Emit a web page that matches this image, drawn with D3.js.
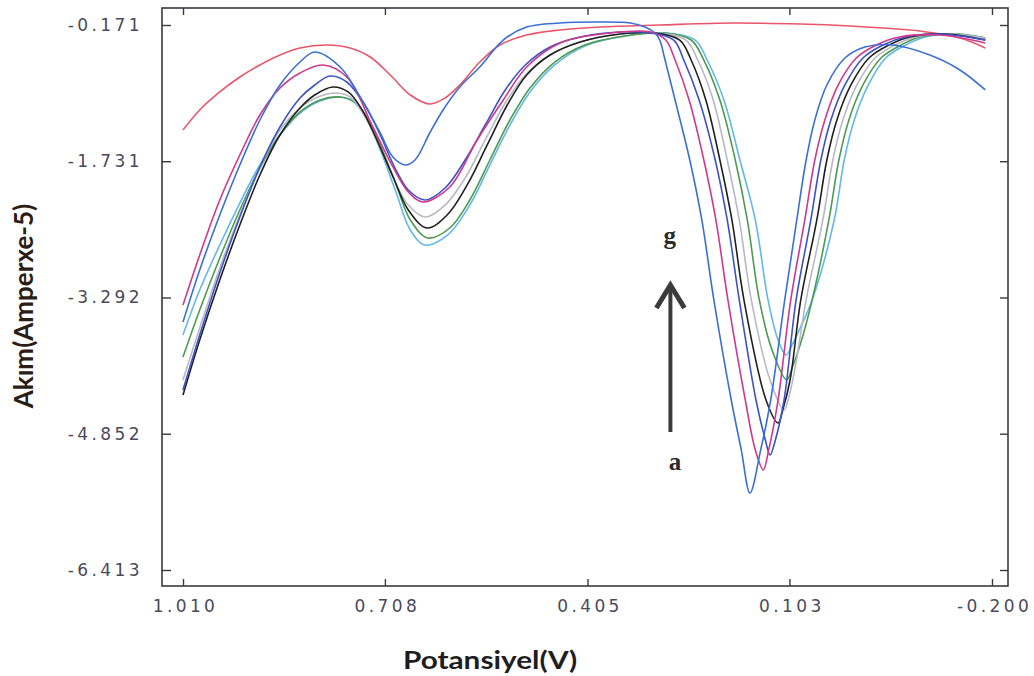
<!DOCTYPE html>
<html>
<head>
<meta charset="utf-8">
<script src="https://cdn.jsdelivr.net/npm/d3@7"></script>
<style>
  body { margin: 0; background: #fff; }
  .tick text { font-family: "DejaVu Sans", sans-serif; font-size: 17px; letter-spacing: 3.4px; fill: #4a4a5a; }
</style>
</head>
<body>
<div id="chart"></div>
<script>
// tick labels as printed on the scan
var xTicks = [1.010, 0.708, 0.405, 0.103, -0.200];
var yTicks = [-0.171, -1.731, -3.292, -4.852, -6.413];

// [potential V, current]
var curveRed = [[1.010,-1.374],[0.985,-1.144],[0.955,-0.938],[0.925,-0.767],[0.895,-0.629],[0.865,-0.515],[0.835,-0.434],[0.795,-0.400],[0.760,-0.434],[0.730,-0.537],[0.700,-0.744],[0.670,-0.973],[0.641,-1.076],[0.618,-1.007],[0.596,-0.858],[0.566,-0.595],[0.536,-0.400],[0.496,-0.286],[0.446,-0.228],[0.386,-0.194],[0.297,-0.171],[0.187,-0.148],[0.087,-0.160],[0.012,-0.182],[-0.037,-0.205],[-0.092,-0.240],[-0.152,-0.320],[-0.190,-0.434]];
var curveA = [[1.010,-3.573],[0.985,-2.977],[0.955,-2.347],[0.925,-1.774],[0.895,-1.259],[0.865,-0.858],[0.835,-0.595],[0.813,-0.480],[0.775,-0.652],[0.745,-0.996],[0.715,-1.408],[0.696,-1.683],[0.678,-1.774],[0.663,-1.717],[0.641,-1.408],[0.621,-1.144],[0.596,-0.881],[0.566,-0.652],[0.531,-0.343],[0.496,-0.194],[0.446,-0.148],[0.386,-0.137],[0.341,-0.148],[0.319,-0.194],[0.304,-0.263],[0.297,-0.343],[0.289,-0.572],[0.274,-1.030],[0.252,-1.717],[0.234,-2.404],[0.216,-3.320],[0.190,-4.466],[0.175,-5.038],[0.162,-5.531],[0.146,-5.038],[0.131,-4.466],[0.110,-3.320],[0.092,-2.404],[0.078,-1.717],[0.065,-1.259],[0.047,-0.858],[0.020,-0.549],[-0.010,-0.423],[-0.052,-0.400],[-0.107,-0.515],[-0.152,-0.686],[-0.190,-0.915]];
var curveB = [[1.010,-3.378],[0.985,-2.805],[0.955,-2.175],[0.925,-1.660],[0.895,-1.202],[0.865,-0.893],[0.835,-0.721],[0.801,-0.629],[0.765,-0.767],[0.726,-1.339],[0.696,-1.797],[0.673,-2.084],[0.651,-2.198],[0.611,-2.026],[0.570,-1.488],[0.531,-1.030],[0.496,-0.652],[0.446,-0.377],[0.371,-0.263],[0.311,-0.251],[0.288,-0.343],[0.274,-0.572],[0.253,-1.030],[0.231,-1.717],[0.213,-2.404],[0.195,-3.320],[0.169,-4.466],[0.154,-5.038],[0.142,-5.267],[0.134,-5.038],[0.120,-4.466],[0.101,-3.320],[0.080,-2.404],[0.065,-1.717],[0.050,-1.259],[0.030,-0.858],[0.003,-0.549],[-0.027,-0.400],[-0.062,-0.308],[-0.122,-0.286],[-0.190,-0.377]];
var curveC = [[1.010,-4.351],[0.985,-3.721],[0.955,-3.011],[0.925,-2.370],[0.895,-1.797],[0.865,-1.339],[0.835,-1.007],[0.813,-0.858],[0.790,-0.755],[0.765,-0.824],[0.738,-1.087],[0.715,-1.431],[0.693,-1.809],[0.673,-2.061],[0.648,-2.175],[0.618,-2.038],[0.588,-1.717],[0.558,-1.316],[0.528,-0.915],[0.498,-0.629],[0.461,-0.423],[0.416,-0.308],[0.356,-0.251],[0.311,-0.263],[0.276,-0.343],[0.261,-0.572],[0.238,-1.030],[0.214,-1.717],[0.196,-2.404],[0.178,-3.320],[0.153,-4.466],[0.139,-4.924],[0.132,-5.096],[0.124,-4.924],[0.111,-4.466],[0.093,-3.320],[0.071,-2.404],[0.056,-1.717],[0.041,-1.259],[0.020,-0.858],[-0.007,-0.549],[-0.037,-0.400],[-0.070,-0.308],[-0.122,-0.274],[-0.190,-0.343]];
var curveD = [[1.010,-4.409],[0.985,-3.779],[0.955,-3.091],[0.925,-2.462],[0.895,-1.889],[0.865,-1.431],[0.835,-1.122],[0.813,-0.973],[0.786,-0.881],[0.763,-0.938],[0.742,-1.144],[0.720,-1.488],[0.697,-1.889],[0.673,-2.290],[0.645,-2.496],[0.615,-2.347],[0.585,-2.003],[0.555,-1.545],[0.525,-1.087],[0.496,-0.744],[0.461,-0.515],[0.416,-0.366],[0.356,-0.274],[0.304,-0.263],[0.267,-0.343],[0.250,-0.572],[0.228,-1.030],[0.207,-1.717],[0.189,-2.404],[0.171,-3.320],[0.138,-4.466],[0.120,-4.729],[0.113,-4.580],[0.102,-4.237],[0.086,-3.320],[0.062,-2.404],[0.047,-1.717],[0.032,-1.259],[0.011,-0.858],[-0.016,-0.549],[-0.046,-0.400],[-0.077,-0.308],[-0.130,-0.274],[-0.190,-0.343]];
var curveE = [[1.010,-4.237],[0.985,-3.641],[0.955,-2.954],[0.925,-2.347],[0.895,-1.809],[0.865,-1.374],[0.835,-1.122],[0.808,-0.996],[0.780,-0.950],[0.760,-0.996],[0.739,-1.202],[0.717,-1.545],[0.694,-1.946],[0.673,-2.233],[0.648,-2.370],[0.618,-2.233],[0.588,-1.923],[0.558,-1.488],[0.528,-1.064],[0.498,-0.744],[0.461,-0.515],[0.416,-0.366],[0.356,-0.274],[0.297,-0.263],[0.258,-0.343],[0.240,-0.572],[0.217,-1.030],[0.196,-1.717],[0.178,-2.404],[0.160,-3.320],[0.132,-4.237],[0.111,-4.580],[0.105,-4.466],[0.095,-4.122],[0.078,-3.320],[0.053,-2.404],[0.038,-1.717],[0.023,-1.259],[0.002,-0.858],[-0.025,-0.549],[-0.055,-0.400],[-0.085,-0.308],[-0.137,-0.274],[-0.190,-0.320]];
var curveF = [[1.010,-3.973],[0.985,-3.435],[0.955,-2.840],[0.925,-2.290],[0.895,-1.809],[0.865,-1.431],[0.835,-1.167],[0.805,-1.030],[0.775,-0.996],[0.753,-1.053],[0.733,-1.259],[0.712,-1.603],[0.691,-2.003],[0.670,-2.404],[0.644,-2.610],[0.611,-2.496],[0.581,-2.175],[0.551,-1.717],[0.521,-1.259],[0.491,-0.893],[0.454,-0.595],[0.409,-0.400],[0.349,-0.297],[0.289,-0.263],[0.250,-0.343],[0.231,-0.572],[0.207,-1.030],[0.184,-1.717],[0.166,-2.404],[0.148,-3.320],[0.129,-3.893],[0.107,-4.237],[0.099,-4.099],[0.087,-3.836],[0.069,-3.320],[0.044,-2.404],[0.029,-1.717],[0.014,-1.259],[-0.007,-0.858],[-0.034,-0.549],[-0.064,-0.400],[-0.092,-0.308],[-0.145,-0.274],[-0.190,-0.320]];
var curveG = [[1.010,-3.721],[0.985,-3.206],[0.955,-2.691],[0.925,-2.210],[0.895,-1.774],[0.865,-1.431],[0.835,-1.179],[0.805,-1.041],[0.775,-0.996],[0.753,-1.064],[0.733,-1.282],[0.712,-1.660],[0.691,-2.095],[0.670,-2.519],[0.648,-2.691],[0.614,-2.576],[0.581,-2.233],[0.551,-1.774],[0.521,-1.316],[0.491,-0.938],[0.454,-0.629],[0.409,-0.412],[0.349,-0.297],[0.285,-0.263],[0.244,-0.343],[0.226,-0.572],[0.201,-1.030],[0.177,-1.717],[0.154,-2.404],[0.135,-3.320],[0.120,-3.779],[0.108,-3.950],[0.099,-3.836],[0.087,-3.641],[0.069,-3.320],[0.036,-2.404],[0.021,-1.717],[0.006,-1.259],[-0.015,-0.858],[-0.041,-0.549],[-0.071,-0.400],[-0.100,-0.308],[-0.152,-0.274],[-0.190,-0.320]];

var series = [
    { name: "blank", color: "#e9566a", data: curveRed },
    { name: "g", color: "#62b8ea", data: curveG },
    { name: "f", color: "#4e9a50", data: curveF },
    { name: "e", color: "#b9b9c4", data: curveE },
    { name: "d", color: "#202020", data: curveD },
    { name: "c", color: "#3b52c9", data: curveC },
    { name: "b", color: "#d1388c", data: curveB },
    { name: "a", color: "#3a6fd6", data: curveA }
];

var width = 1034;
var height = 676;
var frame = { left: 162, right: 1008, top: 8, bottom: 586 };

var svg = d3.select("#chart")
    .append("svg")
    .attr("width", width)
    .attr("height", height);

svg.append("rect").attr("width", width).attr("height", height).attr("fill", "#fff");

var x = d3.scaleLinear().domain([1.010, -0.200]).range([183, 992]);
var y = d3.scaleLinear().domain([-0.171, -6.413]).range([25, 570]);
var fmt = function (d) { return d.toFixed(3); };

// axes, ticks pointing inward
var axBottom = svg.append("g")
    .attr("transform", "translate(0," + frame.bottom + ")")
    .call(d3.axisBottom(x).tickValues(xTicks).tickFormat(fmt).tickSizeInner(-7).tickSizeOuter(0).tickPadding(14));
var axTop = svg.append("g")
    .attr("transform", "translate(0," + frame.top + ")")
    .call(d3.axisTop(x).tickValues(xTicks).tickFormat("").tickSizeInner(-7).tickSizeOuter(0));
var axLeft = svg.append("g")
    .attr("transform", "translate(" + frame.left + ",0)")
    .call(d3.axisLeft(y).tickValues(yTicks).tickFormat(fmt).tickSizeInner(-9).tickSizeOuter(0).tickPadding(22));
var axRight = svg.append("g")
    .attr("transform", "translate(" + frame.right + ",0)")
    .call(d3.axisRight(y).tickValues(yTicks).tickFormat("").tickSizeInner(-8).tickSizeOuter(0));

[axBottom, axTop, axLeft, axRight].forEach(function (g) {
    g.select(".domain").remove();
    g.selectAll(".tick line").attr("stroke", "#3a3a3a").attr("stroke-width", 1.4);
});
axBottom.selectAll(".tick text").attr("dx", "2px");
axLeft.selectAll(".tick text").attr("dx", "3px");

svg.append("rect")
    .attr("x", frame.left).attr("y", frame.top)
    .attr("width", frame.right - frame.left).attr("height", frame.bottom - frame.top)
    .attr("fill", "none").attr("stroke", "#3a3a44").attr("stroke-width", 1.6);

// curves
var line = d3.line()
    .x(function (d) { return x(d[0]); })
    .y(function (d) { return y(d[1]); })
    .curve(d3.curveCatmullRom.alpha(0.5));

svg.selectAll(".curve").data(series).enter().append("path")
    .attr("class", "curve")
    .attr("d", function (d) { return line(d.data); })
    .attr("fill", "none")
    .attr("stroke", function (d) { return d.color; })
    .attr("stroke-width", 1.6);

// axis titles (scan is stretched sideways, so the x title is widened too)
svg.append("text")
    .attr("transform", "translate(33,306) rotate(-90)")
    .attr("text-anchor", "middle")
    .style("font-family", "Lato, sans-serif").style("font-weight", "bold").style("font-size", "26px")
    .attr("fill", "#2a1e16")
    .text("Akım(Amperxe-5)");

svg.append("text")
    .attr("transform", "translate(490,669) scale(1.24,1)")
    .attr("text-anchor", "middle")
    .style("font-family", "Lato, sans-serif").style("font-weight", "bold").style("font-size", "24px")
    .attr("fill", "#1e1e22")
    .text("Potansiyel(V)");

// a -> g annotation
var ax = x(0.281);
svg.append("text")
    .attr("x", x(0.282)).attr("y", y(-2.679))
    .attr("text-anchor", "middle")
    .style("font-family", "'Liberation Serif', serif").style("font-weight", "bold").style("font-size", "25px")
    .attr("fill", "#2b2b2b").text("g");
svg.append("text")
    .attr("x", x(0.274)).attr("y", y(-5.267))
    .attr("text-anchor", "middle")
    .style("font-family", "'Liberation Serif', serif").style("font-weight", "bold").style("font-size", "25px")
    .attr("fill", "#2b2b2b").text("a");
svg.append("line")
    .attr("x1", ax).attr("x2", ax)
    .attr("y1", y(-4.832)).attr("y2", y(-3.149))
    .attr("stroke", "#3b3b3b").attr("stroke-width", 4);
svg.append("path")
    .attr("d", "M" + (ax - 14) + "," + (y(-3.114) + 26) + "L" + ax + "," + (y(-3.114) + 3) + "L" + (ax + 14) + "," + (y(-3.114) + 26))
    .attr("fill", "none").attr("stroke", "#3b3b3b").attr("stroke-width", 5).attr("stroke-linejoin", "miter");
</script>
</body>
</html>
